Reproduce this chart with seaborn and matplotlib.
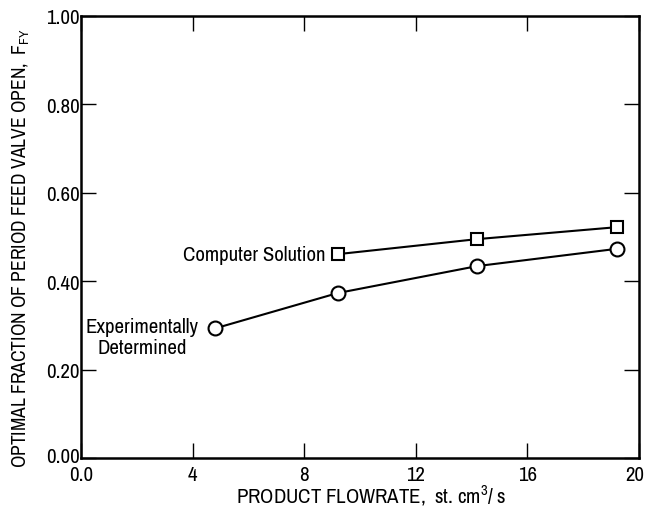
import matplotlib
matplotlib.use("Agg")
import matplotlib.pyplot as plt
import matplotlib.transforms as mtransforms
import seaborn as sns
import pandas as pd

# Data
comp_x = [9.2, 14.2, 19.2]
comp_y = [0.461, 0.495, 0.522]
exp_x = [4.8, 9.2, 14.2, 19.2]
exp_y = [0.293, 0.373, 0.434, 0.473]
x_ticks = [0, 4, 8, 12, 16, 20]
x_tick_labels = ["0.0", "4", "8", "12", "16", "20"]
y_ticks = [0.0, 0.2, 0.4, 0.6, 0.8, 1.0]
y_tick_labels = ["0.00", "0.20", "0.40", "0.60", "0.80", "1.00"]

sns.set_style("ticks")
plt.rcParams['font.family'] = ['Archivo Narrow', 'DejaVu Sans']
plt.rcParams['mathtext.fontset'] = 'custom'
plt.rcParams['mathtext.rm'] = 'Archivo Narrow'

comp = pd.DataFrame({"x": comp_x, "y": comp_y})
exp = pd.DataFrame({"x": exp_x, "y": exp_y})

fig = plt.figure(figsize=(6.45, 5.10), dpi=100)
ax = fig.add_axes([0.1256, 0.10, 0.865, 0.867])

sns.lineplot(data=comp, x="x", y="y", ax=ax, color="black", lw=1.5,
             marker="s", markersize=9, markerfacecolor="white",
             markeredgecolor="black", markeredgewidth=1.5)
sns.lineplot(data=exp, x="x", y="y", ax=ax, color="black", lw=1.5,
             marker="o", markersize=10, markerfacecolor="white",
             markeredgecolor="black", markeredgewidth=1.5)

ax.set_xlim(0, 20)
ax.set_ylim(0, 1.0)
ax.set_xticks(x_ticks)
ax.set_xticklabels(x_tick_labels)
ax.set_yticks(y_ticks)
ax.set_yticklabels(y_tick_labels)
ax.tick_params(direction="in", length=11, width=1.0, top=True, right=True,
               labelsize=15, pad=1, color="black", labelcolor="black")
ax.tick_params(axis="x", pad=5)
for s in ax.spines.values():
    s.set_linewidth(1.8)
    s.set_color("black")

# nudge the corner tick labels so they stay inside the figure and apart
last = ax.get_xticklabels()[-1]
last.set_transform(last.get_transform() +
                   mtransforms.ScaledTranslation(-4 / 100, 0, fig.dpi_scale_trans))
first_y = ax.get_yticklabels()[0]
first_y.set_transform(first_y.get_transform() +
                      mtransforms.ScaledTranslation(0, 3 / 100, fig.dpi_scale_trans))

ax.set_xlabel(r"PRODUCT FLOWRATE,  st. cm$^3$/ s", fontsize=15, labelpad=0,
              color="black")
ax.xaxis.set_label_coords(0.52, -0.056)
ax.set_ylabel(r"OPTIMAL FRACTION OF PERIOD FEED VALVE OPEN,  F$_{\mathrm{FY}}$",
              fontsize=14, color="black")
ax.yaxis.set_label_coords(-0.088, 0.477)

ax.text(8.75, 0.461, "Computer Solution", ha="right", va="center", fontsize=15,
        color="black")
ax.text(2.2, 0.274, "Experimentally\nDetermined", ha="center", va="center",
        fontsize=15, multialignment="center", linespacing=1.15, color="black")

fig.savefig("out.png", dpi=100)
